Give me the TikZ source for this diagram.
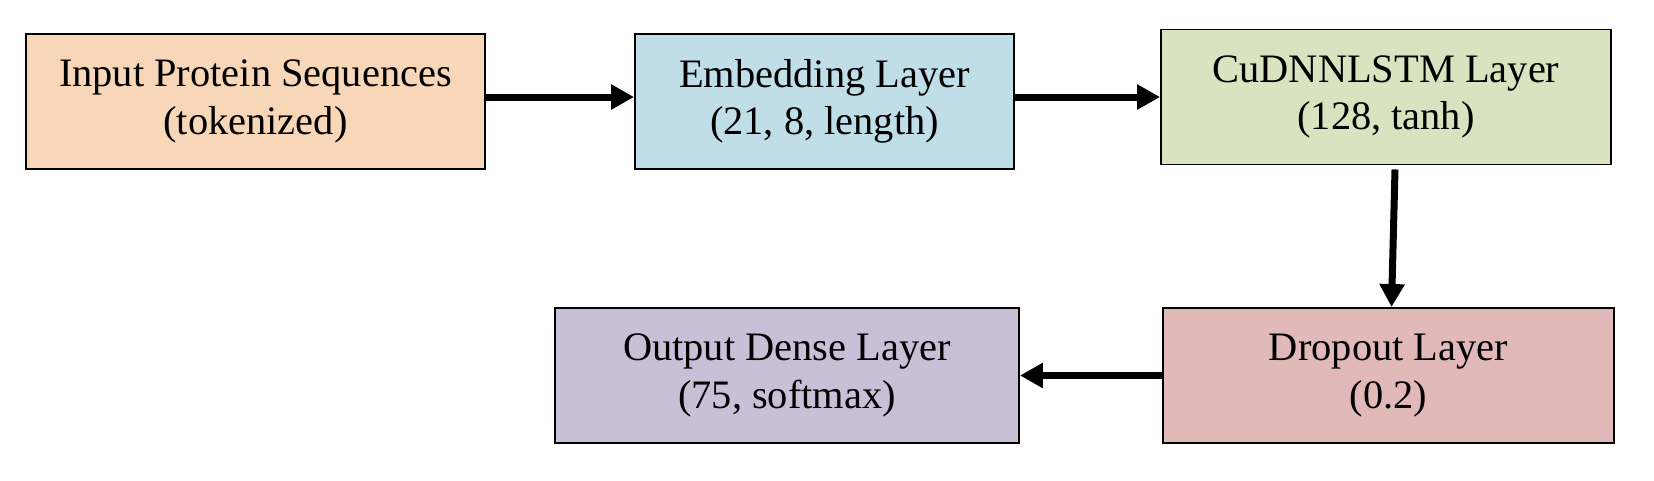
\documentclass[tikz,border=0pt]{standalone}
\usepackage{fontspec}
\setmainfont{Liberation Serif}
\usetikzlibrary{arrows.meta}

\definecolor{inputfill}{HTML}{F7D7B7}
\definecolor{embedfill}{HTML}{C0DEE7}
\definecolor{lstmfill}{HTML}{D8E4BF}
\definecolor{dropfill}{HTML}{E0B9B8}
\definecolor{densefill}{HTML}{C9C0D8}

\begin{document}
\begin{tikzpicture}[line width = 1.1pt,
                    layer/.style = {rectangle, draw, minimum height = 2.7cm, align = center,
                                    font = \fontsize{23}{27}\selectfont, inner sep = 0pt},
                    arr/.style = {line width = 0.14cm, -{Triangle[length = 0.46cm, width = 0.48cm]}}]

\useasboundingbox (0,0) rectangle (33.08,9.6);

% top row
\node (inp) at (5.11,7.57) [layer, fill = inputfill, minimum width = 9.18cm]
      {Input Protein Sequences \\ (tokenized)};
\node (emb) at (16.49,7.57) [layer, fill = embedfill, minimum width = 7.58cm]
      {Embedding Layer \\ (21, 8, length)};
\node (cud) at (27.72,7.66) [layer, fill = lstmfill, minimum width = 9.0cm]
      {CuDNNLSTM Layer \\ (128, tanh)};

% bottom row
\node (drop) at (27.77,2.09) [layer, fill = dropfill, minimum width = 9.02cm]
      {Dropout Layer \\ (0.2)};
\node (out) at (15.74,2.09) [layer, fill = densefill, minimum width = 9.28cm]
      {Output Dense Layer \\ (75, softmax)};

\draw[arr] (inp.east |- cud.west) -- (emb.west |- cud.west);
\draw[arr] (emb.east |- cud.west) -- (cud.west);
\draw[arr] ([xshift=0.18cm, yshift=-0.08cm]cud.south) -- ([xshift=0.06cm]drop.north);
\draw[arr] (drop.west) -- (out.east);
\end{tikzpicture}
\end{document}
